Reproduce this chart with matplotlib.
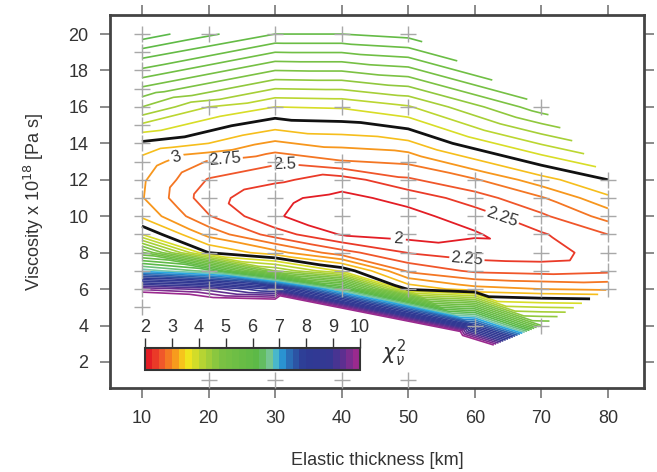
import numpy as np
import matplotlib.pyplot as plt
import matplotlib.tri as mtri
from matplotlib.colors import LinearSegmentedColormap, BoundaryNorm
import matplotlib.cm as cm

plt.rcParams['font.family'] = ['Liberation Sans', 'DejaVu Sans']

# model grid: elastic thickness [km] columns, viscosity [1e18 Pa s] nodes, reduced chi2
te_cols = [10, 20, 30, 40, 50, 60, 70, 80]
visc_cols = [
    [5, 6, 7, 8, 9, 10, 11, 12, 13, 14, 15, 16, 17, 18, 19, 20],
    [1, 6, 7, 8, 9, 10, 11, 12, 13, 16, 20],
    [1, 6, 7, 8, 9, 10, 11, 12, 13, 16, 20],
    [1, 6, 7, 8, 9, 10, 11, 12, 13, 16, 20],
    [1, 6, 7, 8, 9, 10, 11, 12, 13, 16, 20],
    [4, 6, 7, 8, 9, 10, 11, 12],
    [4, 6, 7, 8, 9, 10, 11, 12, 16],
    [6, 7, 8, 9, 10, 11, 12],
]
chi2_cols = [
    [11.5, 9.7, 6.9, 5.3, 3.75, 3.2, 3.02, 3.04, 3.15, 3.45, 3.95, 4.5, 4.95, 5.45, 5.9, 6.4],
    [19.4, 9.4, 6.4, 3.5, 2.92, 2.52, 2.35, 2.48, 2.73, 4.0, 6.05],
    [20.5, 8.7, 4.5, 3.1, 2.38, 2.02, 2.05, 2.3, 2.55, 3.75, 5.75],
    [26.4, 6.4, 3.7, 2.6, 1.98, 1.87, 1.93, 2.13, 2.73, 3.78, 5.75],
    [19.0, 3.45, 2.7, 2.24, 1.9, 1.92, 2.08, 2.46, 2.8, 3.97, 5.85],
    [8.0, 3.1, 2.45, 2.12, 1.97, 2.12, 2.38, 2.72],
    [5.0, 3.0, 2.4, 2.1, 2.22, 2.45, 2.72, 3.15, 4.9],
    [2.95, 2.45, 2.4, 2.5, 2.85, 3.2, 3.5],
]
best_fit_level = 3.5   # black contour
labelled = [2.0, 2.25, 2.5, 2.75, 3.0]
label_pos = [(15.2, 13.2), (22.5, 13.2), (31.5, 12.9), (48.5, 8.7), (64.3, 10.15), (58.8, 7.57)]
cbar_ticks = [2, 3, 4, 5, 6, 7, 8, 9, 10]

te = np.concatenate([[t] * len(v) for t, v in zip(te_cols, visc_cols)]).astype(float)
visc = np.concatenate(visc_cols).astype(float)
chi2 = np.concatenate(chi2_cols)

# triangulate in scaled (slightly sheared) space so the square cells split one way
tri0 = mtri.Triangulation(te / 10.0 + 0.01 * visc, visc)
tri = mtri.Triangulation(te, visc, tri0.triangles)

anchors = [(2.0, '#e31d25'), (2.5, '#f0562a'), (3.0, '#f7961d'), (3.5, '#f5e51c'),
           (4.0, '#bcd631'), (4.75, '#7cc243'), (6.25, '#5ab847'), (6.75, '#7cc9a6'),
           (7.0, '#29abe2'), (7.5, '#2b62ad'), (8.0, '#2e3a94'), (9.0, '#353893'),
           (9.5, '#5e2f90'), (10.0, '#9a2a8e')]
cmap = LinearSegmentedColormap.from_list(
    'chi', [((v - 2) / 8.0, c) for v, c in anchors])
levels = np.arange(2.0, 10.001, 0.25)
rest = [l for l in levels if l > 3.01 and abs(l - best_fit_level) > 1e-6]

def col(l):
    return cmap((l - 2) / 8.0)

fig = plt.figure(figsize=(6.57, 4.72), dpi=100)
ax = fig.add_axes([0.1674, 0.178, 0.8126, 0.79])

ax.tricontour(tri, chi2, levels=rest, colors=[col(l) for l in rest], linewidths=1.2, zorder=2)
cs = ax.tricontour(tri, chi2, levels=labelled, colors=[col(l) for l in labelled],
                   linewidths=1.3, zorder=2)
ax.tricontour(tri, chi2, levels=[best_fit_level], colors='#111111', linewidths=2.0, zorder=3)

ax.clabel(cs, manual=label_pos, inline=True, fontsize=12,
          colors='#333333', fmt=lambda v: f'{v:g}', inline_spacing=4)

ax.plot(te, visc, '+', color='#a8a8a8', ms=11, mew=1.0, zorder=4)

ax.set_xlim(5.2, 85.4)
ax.set_ylim(0.57, 21.04)
ax.set_xticks(range(10, 81, 10))
ax.set_yticks(range(2, 21, 2))
ax.tick_params(direction='out', length=7.5, width=1.2, color='#777777',
               top=True, right=True, labelsize=13, labelcolor='#333333', pad=8)
for sp in ax.spines.values():
    sp.set_linewidth(2.0)
    sp.set_color('#444444')
ax.set_xlabel('Elastic thickness [km]', fontsize=13, color='#333333', labelpad=18)
ax.set_ylabel('Viscosity x 10$^{18}$ [Pa s]', fontsize=13, color='#333333', labelpad=16)

cax = ax.inset_axes([0.066, 0.048, 0.402, 0.059])
sm = cm.ScalarMappable(norm=BoundaryNorm(levels, 32), cmap=cmap.resampled(32))
cb = fig.colorbar(sm, cax=cax, orientation='horizontal', ticks=cbar_ticks)
cax.xaxis.set_ticks_position('top')
cax.minorticks_off()
cax.tick_params(length=7, width=1, color='#333333', labelsize=13, labelcolor='#333333', pad=2)
cb.outline.set_linewidth(1.5)
cb.outline.set_edgecolor('#333333')
ax.text(0.51, 0.075, r'$\chi^2_{\nu}$', transform=ax.transAxes, fontsize=15, color='#333333')

fig.savefig('out.png', dpi=100)
